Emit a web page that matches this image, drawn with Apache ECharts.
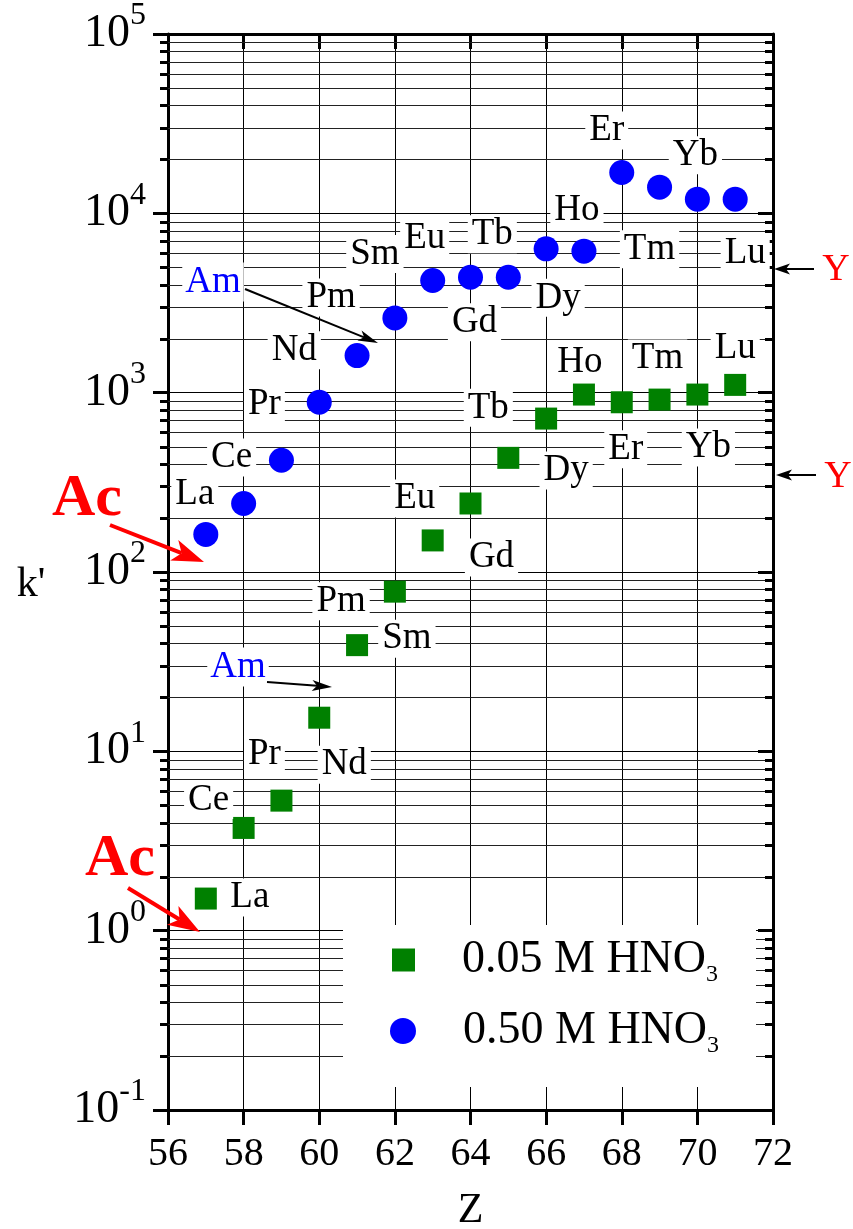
<!DOCTYPE html>
<html>
<head>
<meta charset="utf-8">
<script src="https://cdn.jsdelivr.net/npm/echarts@6/dist/echarts.min.js"></script>
<style>
html,body{margin:0;padding:0;background:#fff;}
#chart{width:853px;height:1229px;}
</style>
</head>
<body>
<div id="chart"></div>
<script>
// ---- data ----
var Z = [57, 58, 59, 60, 61, 62, 63, 64, 65, 66, 67, 68, 69, 70, 71];
var elements = ['La','Ce','Pr','Nd','Pm','Sm','Eu','Gd','Tb','Dy','Ho','Er','Tm','Yb','Lu'];
var k_005 = [1.51, 3.74, 5.31, 15.4, 39.1, 77.7, 150, 241, 433, 717, 976, 884, 915, 976, 1105];
var k_050 = [162, 241, 420, 884, 1610, 2610, 4220, 4400, 4400, 6340, 6150, 16900, 14000, 12000, 12000];
var seriesNames = ['0.05 M HNO3', '0.50 M HNO3'];
var xTicks = [56, 58, 60, 62, 64, 66, 68, 70, 72];
var yDecades = [-1, 0, 1, 2, 3, 4, 5];
var minorMultipliers = [2, 3, 4, 5, 6, 7, 8, 9];

// ---- label layout (pixel offsets of element labels from their marks) ----
var offs005 = [[44,-1],[-35,-28],[-17,-46],[25,47],[-16,-44],[12,47],[-18,-42],[21,54],[-20,-50],[20,52],[-4,-32],[4,47],[-2,-41],[11,53],[0,-37]];
var offs050 = [[-11,-40],[-12,-46],[-17,-56],[-25,-52],[-26,-58],[-20,-64],[-8,-42],[4,45],[-16,-43],[12,49],[-7,-41],[-15,-42],[-10,62],[-2,-44],[10,54]];

var FONT = 'Liberation Serif';

// minor tick values (2..9 x 10^e)
var minorVals = [];
for (var i = 0; i < yDecades.length - 1; i++) {
  for (var j = 0; j < minorMultipliers.length; j++) {
    minorVals.push([56, minorMultipliers[j] * Math.pow(10, yDecades[i])]);
  }
}

function mkData(vals, offs) {
  return Z.map(function (z, i) {
    return {
      value: [z, vals[i]],
      name: elements[i],
      label: { offset: offs[i] }
    };
  });
}

var labelStyle = {
  show: true,
  position: 'inside',
  formatter: '{b}',
  fontFamily: FONT,
  fontSize: 37,
  color: '#000',
  backgroundColor: '#fff',
  padding: [1, 4],
  lineHeight: 36
};

function arrow(x1, y1, x2, y2, color, lw, hl, hw) {
  var a = Math.atan2(y2 - y1, x2 - x1);
  var c = Math.cos(a), s = Math.sin(a);
  var bx = x2 - hl * c, by = y2 - hl * s;
  var nx = x2 - hl * 0.75 * c, ny = y2 - hl * 0.75 * s;
  var px = -s * hw / 2, py = c * hw / 2;
  return [
    { type: 'line', z: 100, shape: { x1: x1, y1: y1, x2: nx, y2: ny }, style: { stroke: color, lineWidth: lw } },
    { type: 'polygon', z: 100, shape: { points: [[x2, y2], [bx + px, by + py], [nx, ny], [bx - px, by - py]] }, style: { fill: color } }
  ];
}

function txt(x, y, text, size, color, weight) {
  return {
    type: 'text', z: 100, x: x, y: y,
    style: {
      text: text, fill: color, font: (weight || 'normal') + ' ' + size + 'px "' + FONT + '"',
      align: 'center', verticalAlign: 'middle'
    }
  };
}

var graphics = [
  { type: 'rect', z: 5, shape: { x: 343, y: 925, width: 413, height: 162 }, style: { fill: '#fff' } },
  { type: 'text', z: 100, x: 213, y: 282, style: { text: 'Am', fill: '#0000ff', font: '37px "' + FONT + '"', align: 'center', verticalAlign: 'middle', backgroundColor: '#fff', padding: [1, 3] } },
  { type: 'text', z: 100, x: 238, y: 667, style: { text: 'Am', fill: '#0000ff', font: '37px "' + FONT + '"', align: 'center', verticalAlign: 'middle', backgroundColor: '#fff', padding: [1, 3] } },
  txt(31, 585, "k'", 42, '#000'),
  txt(87, 499, 'Ac', 60, '#ff0000', 'bold'),
  txt(120, 859, 'Ac', 60, '#ff0000', 'bold'),
  txt(836, 270, 'Y', 38, '#ff0000'),
  txt(838, 477, 'Y', 38, '#ff0000')
]
  .concat(arrow(245, 289, 378, 343, '#000', 2, 20, 11))
  .concat(arrow(267, 682, 332, 687, '#000', 2, 20, 11))
  .concat(arrow(110, 525, 204, 562, '#ff0000', 4, 32, 22))
  .concat(arrow(128, 888, 200, 932, '#ff0000', 4, 32, 22))
  .concat(arrow(814, 269, 774, 269, '#000', 2, 16, 11))
  .concat(arrow(816, 475, 776, 475, '#000', 2, 16, 11));

var legendRich = {
  g: { width: 42, fontSize: 10 },
  a: { fontFamily: FONT, fontSize: 46, lineHeight: 46, color: '#000', verticalAlign: 'middle' },
  s: { fontFamily: FONT, fontSize: 24, lineHeight: 24, color: '#000', padding: [30, 0, 0, 0], verticalAlign: 'middle' }
};
function legendFmt(name) { return '{g| }{a|' + name.slice(0, -1) + '}{s|' + name.slice(-1) + '}'; }

var chart = echarts.init(document.getElementById('chart'), null, { renderer: 'canvas' });
chart.setOption({
  animation: false,
  backgroundColor: '#fff',
  textStyle: { fontFamily: FONT, color: '#000' },
  grid: { left: 168, top: 34, width: 605, height: 1076, containLabel: false, outerBoundsMode: 'none' },
  legend: [
    { data: [seriesNames[0]], left: 387, top: 928, orient: 'vertical', itemWidth: 23, itemHeight: 23, z: 10,
      formatter: legendFmt, textStyle: { fontFamily: FONT, rich: legendRich }, selectedMode: false },
    { data: [seriesNames[1]], left: 385, top: 999, orient: 'vertical', itemWidth: 26, itemHeight: 26, z: 10,
      formatter: legendFmt, textStyle: { fontFamily: FONT, rich: legendRich }, selectedMode: false }
  ],
  xAxis: [
    { type: 'value', position: 'bottom', min: xTicks[0], max: xTicks[xTicks.length - 1], interval: 2,
      name: 'Z', nameLocation: 'middle', nameGap: 80,
      nameTextStyle: { fontFamily: FONT, fontSize: 42, color: '#000' },
      axisLine: { show: true, lineStyle: { color: '#000', width: 3 } },
      axisTick: { show: true, inside: false, length: 15, lineStyle: { color: '#000', width: 3 } },
      axisLabel: { show: true, margin: 24, fontFamily: FONT, fontSize: 40, color: '#000' },
      splitLine: { show: true, lineStyle: { color: '#000', width: 1 } } },
    { type: 'value', position: 'top', min: xTicks[0], max: xTicks[xTicks.length - 1], interval: 2,
      axisLine: { show: true, lineStyle: { color: '#000', width: 3 } },
      axisTick: { show: true, inside: true, length: 15, lineStyle: { color: '#000', width: 3 } },
      axisLabel: { show: false }, splitLine: { show: false } }
  ],
  yAxis: [
    { type: 'log', logBase: 10, position: 'left', min: Math.pow(10, yDecades[0]), max: Math.pow(10, yDecades[yDecades.length - 1]), splitNumber: 6,
      axisLine: { show: true, lineStyle: { color: '#000', width: 3 } },
      axisTick: { show: true, inside: false, length: 15, lineStyle: { color: '#000', width: 3 } },
      axisLabel: {
        show: true, margin: 22, fontFamily: FONT, color: '#000',
        formatter: function (v) { var e = Math.round(Math.log10(v)); return '{b|10}{s|' + e + '}'; },
        rich: {
          b: { fontFamily: FONT, fontSize: 46, lineHeight: 46, color: '#000', verticalAlign: 'bottom' },
          s: { fontFamily: FONT, fontSize: 32, lineHeight: 32, color: '#000', padding: [0, 0, 25, 0], verticalAlign: 'bottom' }
        }
      },
      splitLine: { show: true, lineStyle: { color: '#000', width: 1 } } },
    { type: 'log', logBase: 10, position: 'right', min: Math.pow(10, yDecades[0]), max: Math.pow(10, yDecades[yDecades.length - 1]), splitNumber: 6,
      axisLine: { show: true, lineStyle: { color: '#000', width: 3 } },
      axisTick: { show: true, inside: true, length: 15, lineStyle: { color: '#000', width: 3 } },
      axisLabel: { show: false }, splitLine: { show: false } }
  ],
  series: [
    {
      type: 'custom', name: 'minor', z: 1, clip: false, silent: true,
      xAxisIndex: 0, yAxisIndex: 0,
      data: minorVals,
      renderItem: function (params, api) {
        var y = Math.round(api.coord([56, api.value(1)])[1]) + 0.5;
        var cs = params.coordSys;
        return {
          type: 'group', children: [
            { type: 'line', shape: { x1: cs.x, y1: y, x2: cs.x + cs.width, y2: y }, style: { stroke: '#222', lineWidth: 1 } },
            { type: 'line', shape: { x1: cs.x - 8, y1: y, x2: cs.x, y2: y }, style: { stroke: '#000', lineWidth: 3 } },
            { type: 'line', shape: { x1: cs.x + cs.width - 8, y1: y, x2: cs.x + cs.width, y2: y }, style: { stroke: '#000', lineWidth: 3 } }
          ]
        };
      }
    },
    {
      type: 'scatter', name: seriesNames[0], z: 3, xAxisIndex: 0, yAxisIndex: 0,
      symbol: 'rect', symbolSize: 22,
      itemStyle: { color: '#008000', opacity: 1 },
      label: labelStyle,
      data: mkData(k_005, offs005)
    },
    {
      type: 'scatter', name: seriesNames[1], z: 3, xAxisIndex: 0, yAxisIndex: 0,
      symbol: 'circle', symbolSize: 25,
      itemStyle: { color: '#0000ff', opacity: 1 },
      label: labelStyle,
      data: mkData(k_050, offs050)
    }
  ],
  graphic: graphics
});
</script>
</body>
</html>
